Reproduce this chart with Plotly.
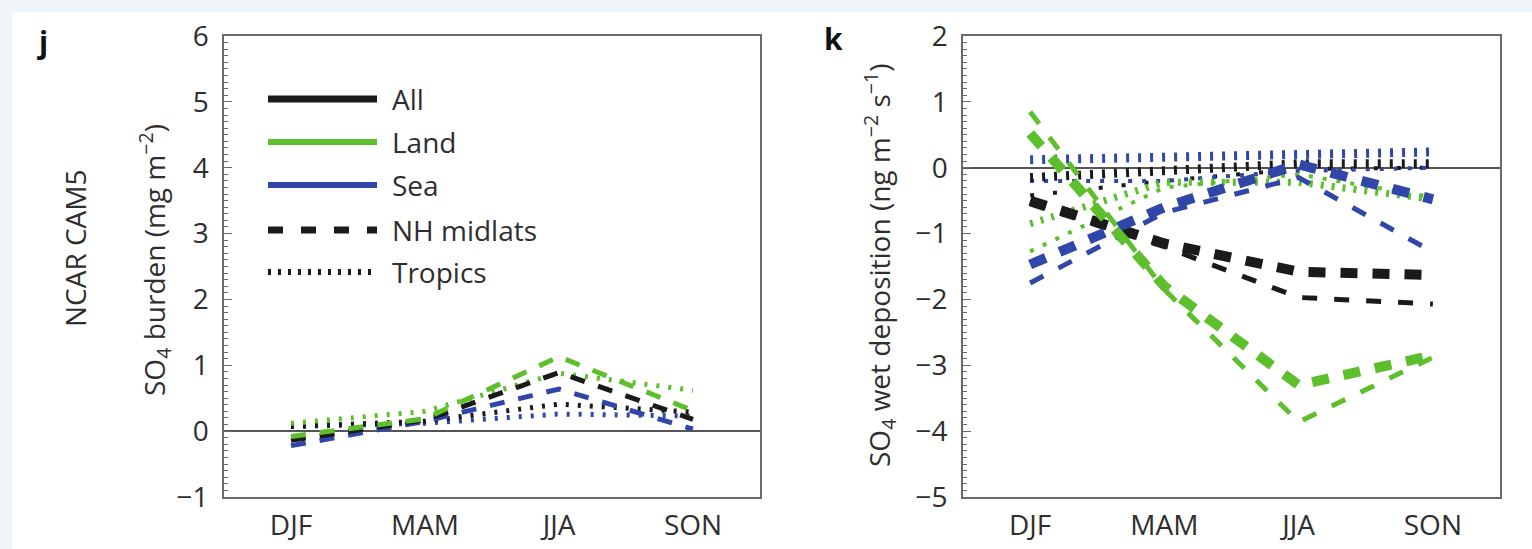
import plotly.graph_objects as go

# ---------------- data ----------------
seasons = ["DJF", "MAM", "JJA", "SON"]

# panel j : SO4 burden (mg m-2)
burden_all_nh = [-0.14, 0.17, 0.89, 0.18]
burden_land_nh = [-0.08, 0.19, 1.13, 0.31]
burden_sea_nh = [-0.22, 0.15, 0.64, 0.03]
burden_all_tr = [0.07, 0.15, 0.41, 0.29]
burden_land_tr = [0.12, 0.30, 0.88, 0.62]
burden_sea_tr = [0.07, 0.12, 0.26, 0.23]

# panel k : SO4 wet deposition (ng m-2 s-1), thick lines
wet_all_nh = [-0.50, -1.15, -1.58, -1.63]
wet_land_nh = [0.52, -1.80, -3.30, -2.85]
wet_sea_nh = [-1.47, -0.60, 0.05, -0.48]
wet_all_tr = [-0.15, -0.04, 0.06, 0.06]
wet_land_tr = [-0.85, -0.22, -0.22, -0.48]
wet_sea_tr = [0.12, 0.15, 0.21, 0.24]

# panel k : thin lines
wet2_all_nh = [-0.55, -1.20, -1.97, -2.07]
wet2_land_nh = [0.85, -1.85, -3.86, -2.88]
wet2_sea_nh = [-1.75, -0.68, -0.15, -1.28]
wet2_all_tr = [-0.42, -0.20, -0.02, 0.00]
wet2_land_tr = [-1.27, -0.30, -0.10, -0.45]
wet2_sea_tr = [-0.20, -0.20, -0.05, 0.00]

legend_labels = ["All", "Land", "Sea", "NH midlats", "Tropics"]

# ---------------- styles ----------------
BLACK = "#1a1a1a"
GREEN = "#5cbf2b"
BLUE = "#3046a8"
TXT = "#2e2e2e"
AX = "#6a6a6a"
FONT = "Open Sans"
W, H = 1532, 549

fig = go.Figure()


def add(y, color, dash, width, xa, ya):
    fig.add_trace(go.Scatter(
        x=seasons, y=y, mode="lines", xaxis=xa, yaxis=ya, showlegend=False,
        line=dict(color=color, width=width, dash=dash), hoverinfo="skip"))


# panel j
DOT_J = "3px,9px"
DASH_J = "15px,14px"
add(burden_sea_tr, BLUE, DOT_J, 5, "x", "y")
add(burden_all_tr, BLACK, DOT_J, 5, "x", "y")
add(burden_land_tr, GREEN, DOT_J, 5, "x", "y")
add(burden_sea_nh, BLUE, DASH_J, 5, "x", "y")
add(burden_all_nh, BLACK, DASH_J, 5, "x", "y")
add(burden_land_nh, GREEN, DASH_J, 5, "x", "y")

# panel k - thin dotted
add(wet2_all_tr, BLACK, "4px,19px", 4, "x2", "y2")
add(wet2_sea_tr, BLUE, "4px,10px", 4, "x2", "y2")
add(wet2_land_tr, GREEN, "4px,10px", 4, "x2", "y2")
# panel k - thick dotted
add(wet_all_tr, BLACK, "3px,9px", 9, "x2", "y2")
add(wet_sea_tr, BLUE, "3px,9px", 9, "x2", "y2")
add(wet_land_tr, GREEN, "3px,8px", 7, "x2", "y2")
# thin dashed
add(wet2_all_nh, BLACK, "15px,17px", 5, "x2", "y2")
add(wet2_sea_nh, BLUE, "15px,17px", 5, "x2", "y2")
add(wet2_land_nh, GREEN, "15px,17px", 5, "x2", "y2")
# thick dashed
add(wet_all_nh, BLACK, "17px,15px", 10, "x2", "y2")
add(wet_sea_nh, BLUE, "17px,15px", 10, "x2", "y2")
add(wet_land_nh, GREEN, "17px,15px", 10, "x2", "y2")

# ---------------- axes ----------------
xd1 = [224 / W, 760 / W]
xd2 = [963 / W, 1500 / W]
yd = [1 - 497 / H, 1 - 36 / H]

tickfont = dict(family=FONT, size=28, color=TXT)


def cat_axis(domain, anchor):
    return dict(domain=domain, anchor=anchor, type="category", range=[-0.5, 3.5],
                ticks="", showgrid=False, zeroline=False, showline=True, mirror=True,
                linecolor=AX, linewidth=1.5, tickfont=tickfont, ticklabelstandoff=3,
                automargin=False)


def tick_axis(over, anchor):
    return dict(overlaying=over, anchor=anchor, type="linear", range=[-0.5, 3.5],
                tickmode="linear", tick0=0.5, dtick=1, ticks="inside", ticklen=8,
                tickwidth=1.3, tickcolor=AX, showticklabels=False, showgrid=False,
                zeroline=False, showline=False, automargin=False,
                minor=dict(ticks="inside", ticklen=4, tickwidth=1.1, tickcolor=AX,
                           tickmode="linear", tick0=-0.5, dtick=0.1, showgrid=False))


def val_axis(domain, anchor, rng):
    return dict(domain=domain, anchor=anchor, range=rng, tickmode="linear", tick0=0, dtick=1,
                ticks="inside", ticklen=8, tickwidth=1.3, tickcolor=AX,
                minor=dict(ticks="inside", ticklen=4, tickwidth=1.1, tickcolor=AX,
                           tickmode="linear", dtick=0.1, tick0=0, showgrid=False),
                showgrid=False, zeroline=True, zerolinecolor="#555555", zerolinewidth=1.5,
                showline=True, mirror=True, linecolor=AX, linewidth=1.5,
                tickfont=tickfont, ticklabelstandoff=8, automargin=False)


fig.update_layout(
    template="none",
    width=W, height=H, margin=dict(l=0, r=0, t=0, b=0, pad=0), autosize=False,
    paper_bgcolor="#eef6fa", plot_bgcolor="rgba(0,0,0,0)",
    font=dict(family=FONT, color=TXT),
    xaxis=cat_axis(xd1, "y"),
    xaxis2=cat_axis(xd2, "y2"),
    xaxis3=tick_axis("x", "y"),
    xaxis4=tick_axis("x2", "y2"),
    yaxis=val_axis(yd, "x", [-1, 6]),
    yaxis2=val_axis(yd, "x2", [-5, 2]),
    showlegend=False,
)

shapes = [dict(type="rect", xref="paper", yref="paper", x0=12 / W, x1=1, y0=0, y1=1 - 12 / H,
               fillcolor="white", line=dict(width=0), layer="below")]

# legend (panel j)
leg_rows = [99, 142, 185, 230, 272]
leg_styles = [(BLACK, None, 7), (GREEN, None, 6), (BLUE, None, 6),
              (BLACK, "15px,18px", 7), (BLACK, "3px,7px", 6)]
for yy, (c, d, w) in zip(leg_rows, leg_styles):
    ln = dict(color=c, width=w)
    if d:
        ln["dash"] = d
    shapes.append(dict(type="line", xref="paper", yref="paper",
                       x0=268 / W, x1=377 / W, y0=1 - yy / H, y1=1 - yy / H, line=ln))
fig.update_layout(shapes=shapes)


def note(text, x, y, size=28, angle=0, color=TXT, xanchor="center"):
    return dict(text=text, xref="paper", yref="paper", x=x / W, y=1 - y / H,
                xanchor=xanchor, yanchor="middle", textangle=angle, showarrow=False,
                font=dict(family=FONT, size=size, color=color))


ann = [note(lab, 390, yy, xanchor="left") for yy, lab in zip(leg_rows, legend_labels)]
ann += [
    note("<b>j</b>", 42, 42, size=30, color="#111"),
    note("<b>k</b>", 833, 38, size=30, color="#111"),
    note("NCAR CAM5", 75, 248, angle=-90),
    note("SO<sub>4</sub> burden (mg m<sup>\u22122</sup>)", 155, 260, angle=-90),
    note("SO<sub>4</sub> wet deposition (ng m<sup>\u22122</sup> s<sup>\u22121</sup>)",
         880, 266, angle=-90),
]
fig.update_layout(annotations=ann)

fig.write_html("out.html")
